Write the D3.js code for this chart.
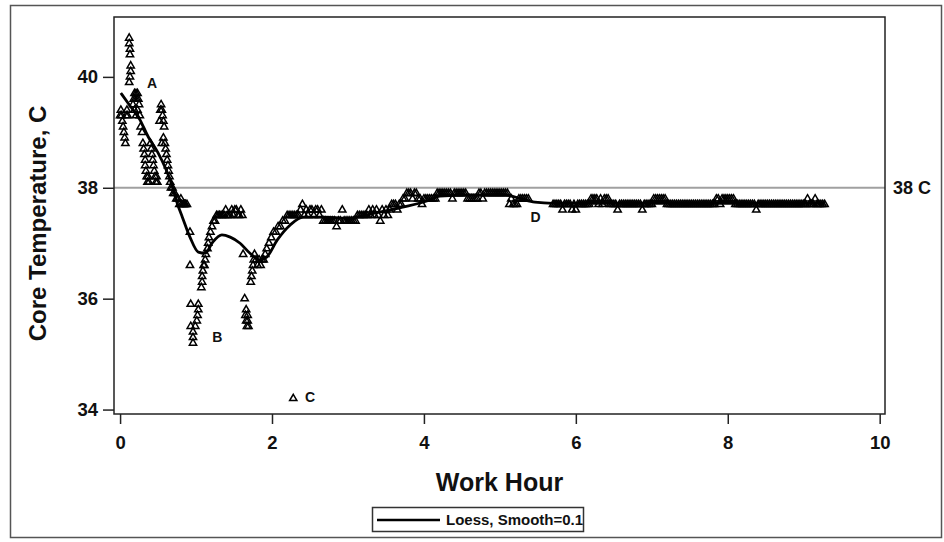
<!DOCTYPE html>
<html><head><meta charset="utf-8">
<script src="https://cdn.jsdelivr.net/npm/d3@7"></script>
<style>
body{margin:0;background:#fff}
svg{display:block}
text{font-family:"Liberation Sans",Arial,Helvetica,sans-serif;font-weight:bold;fill:#111}
</style>
</head><body>
<svg id="chart" width="944" height="542"></svg>
<script>
// ---------- data ----------
const xTicks = [0, 2, 4, 6, 8, 10];
const yTicks = [34, 36, 38, 40];
const xTitle = "Work Hour";
const yTitle = "Core Temperature, C";
const legendLabel = "Loess, Smooth=0.1";
const refTemp = 38;
const refLabel = "38 C";

// early readings [hour, temperature]
const earlyPoints = [
  [0.00,39.3],[0.01,39.4],[0.02,39.3],[0.03,39.2],[0.04,39.1],[0.05,39.0],[0.06,38.9],[0.07,38.8],[0.08,39.3],[0.09,39.4],[0.10,39.3],
  [0.12,39.9],[0.13,40.0],[0.14,40.1],[0.14,40.2],[0.13,40.4],[0.13,40.5],[0.12,40.6],[0.12,40.7],
  [0.17,39.5],[0.18,39.6],[0.19,39.7],[0.20,39.6],[0.21,39.7],[0.22,39.6],[0.23,39.7],[0.24,39.6],
  [0.19,39.4],[0.21,39.3],[0.23,39.4],[0.25,39.5],[0.26,39.3],[0.27,39.1],[0.29,39.0],
  [0.30,38.8],[0.31,38.7],[0.32,38.6],[0.33,38.5],[0.33,38.4],[0.34,38.3],[0.35,38.2],[0.36,38.1],[0.37,38.2],[0.38,38.1],
  [0.40,38.8],[0.41,38.7],[0.42,38.6],[0.43,38.5],[0.44,38.4],[0.45,38.3],[0.46,38.2],[0.47,38.1],[0.48,38.2],[0.49,38.1],
  [0.52,39.2],[0.53,39.4],[0.54,39.5],[0.55,39.4],[0.56,39.3],[0.57,39.2],[0.58,39.1],[0.55,38.8],[0.57,38.9],[0.59,38.8],
  [0.60,38.7],[0.61,38.6],[0.62,38.5],[0.63,38.4],[0.64,38.3],[0.65,38.2],[0.66,38.1],[0.67,38.0],
  [0.69,38.0],[0.70,37.9],[0.72,37.9],[0.74,37.8],[0.76,37.8],[0.78,37.7],[0.80,37.8],[0.81,37.7],[0.83,37.7],[0.84,37.7],[0.85,37.7],[0.86,37.7],[0.88,37.7],
  [0.92,37.2],[0.92,36.6],
  [0.93,35.9],[0.93,35.5],[0.96,35.3],[0.96,35.2],[0.96,35.4],[0.99,35.5],[1.01,35.6],[1.02,35.7],[1.03,35.8],[1.03,35.9],
  [1.07,36.2],[1.08,36.3],[1.08,36.4],[1.09,36.5],[1.10,36.6],[1.11,36.6],[1.12,36.7],[1.13,36.8],
  [1.15,36.9],[1.16,37.0],[1.17,37.1],[1.19,37.2],[1.21,37.3],[1.23,37.4],[1.25,37.4],[1.27,37.5],
  [1.29,37.5],[1.31,37.5],[1.33,37.5],[1.35,37.5],[1.37,37.5],[1.39,37.6],[1.41,37.5],[1.43,37.5],[1.45,37.5],
  [1.47,37.6],[1.49,37.5],[1.51,37.6],[1.53,37.6],[1.55,37.5],[1.57,37.5],[1.59,37.6],[1.61,37.5],
  [1.62,36.8],[1.64,36.0],[1.65,35.7],[1.66,35.8],[1.66,35.6],[1.67,35.5],[1.68,35.6],[1.68,35.7],[1.69,35.5],
  [1.72,36.3],[1.73,36.4],[1.74,36.5],[1.75,36.6],[1.76,36.7],[1.77,36.8],
  [1.79,36.7],[1.81,36.6],[1.83,36.7],[1.85,36.6],[1.87,36.7],[1.89,36.7],[1.91,36.8],
  [1.93,36.9],[1.96,37.0],[1.99,37.1],[2.02,37.2],[2.05,37.2],[2.08,37.3],[2.11,37.3],[2.14,37.4],[2.17,37.4],[2.20,37.5],
  [2.28,34.2]
];

// later readings, one every plateauStep hours from plateauStart (null = no reading)
const plateauStart = 2.225;
const plateauStep = 0.025;
const plateauTemps = [
  37.5,37.5,37.5,37.5,37.5,37.5,37.6,37.7,37.5,37.6,
  37.5,37.6,37.6,37.5,37.6,37.6,37.5,37.6,37.4,37.4,
  37.4,37.4,37.4,37.4,37.4,37.3,37.4,37.4,37.6,37.4,
  37.4,37.4,37.4,37.4,37.4,37.4,37.5,37.5,37.5,37.5,
  37.5,37.5,37.6,37.5,37.6,37.5,37.6,37.5,37.4,37.6,
  37.5,37.6,37.5,37.6,37.7,37.7,37.7,37.6,37.7,37.7,
  37.8,37.8,37.9,37.9,37.9,37.8,37.9,37.9,37.8,37.8,
  37.7,37.8,37.8,37.8,37.8,37.8,37.8,37.8,37.9,37.9,
  37.9,37.9,37.9,37.9,37.9,37.9,37.8,37.9,37.9,37.9,
  37.9,37.9,37.9,37.9,37.8,37.8,37.8,37.8,37.8,37.8,
  37.9,37.9,37.8,37.9,37.9,37.9,37.9,37.9,37.9,37.9,
  37.9,37.9,37.9,37.9,37.9,37.9,37.7,37.8,37.7,37.7,
  37.7,37.8,37.8,37.8,37.8,37.8,37.8,null,null,null,
  null,null,null,null,null,null,null,null,null,37.7,
  37.7,37.7,37.7,37.7,37.6,37.7,37.7,37.7,37.7,37.6,
  37.7,37.6,37.7,37.7,37.7,37.7,37.7,37.7,37.7,37.8,
  37.8,37.8,37.8,37.7,37.8,37.7,37.8,37.8,37.8,37.7,
  37.7,37.7,37.7,37.6,37.7,37.7,37.7,37.7,37.7,37.7,
  37.7,37.7,37.7,37.7,37.7,37.7,37.6,37.7,37.7,37.7,
  37.7,37.7,37.8,37.8,37.8,37.8,37.8,37.8,37.8,37.7,
  37.7,37.7,37.7,37.7,37.7,37.7,37.7,37.7,37.7,37.7,
  37.7,37.7,37.7,37.7,37.7,37.7,37.7,37.7,37.7,37.7,
  37.7,37.7,37.7,37.7,37.7,37.8,37.8,37.7,37.8,37.8,
  37.8,37.8,37.8,37.8,37.8,37.7,37.7,37.7,37.7,37.7,
  37.7,37.7,37.7,37.7,37.7,37.7,37.6,37.7,37.7,37.7,
  37.7,37.7,37.7,37.7,37.7,37.7,37.7,37.7,37.7,37.7,
  37.7,37.7,37.7,37.7,37.7,37.7,37.7,37.7,37.7,37.7,
  37.7,37.7,37.7,37.8,37.7,37.7,37.7,37.8,37.7,37.7,
  37.7,37.7,37.7
];

// loess curve
const loessHours = [0.01,0.13,0.26,0.37,0.50,0.66,0.76,0.82,0.92,1.03,1.12,1.22,1.34,1.45,1.58,1.71,1.84,1.93,2.07,2.24,2.41,2.67,2.99,3.38,3.72,4.08,4.21,4.60,5.07,5.26,5.46,5.70,6.32,7.50,8.50,9.28];
const loessTemps = [39.71,39.48,39.23,38.92,38.63,38.14,37.69,37.47,37.11,36.84,36.82,37.02,37.15,37.11,37.00,36.82,36.70,36.75,37.06,37.33,37.47,37.47,37.45,37.55,37.65,37.78,37.85,37.87,37.87,37.81,37.74,37.72,37.72,37.72,37.72,37.72];

// annotation letters
const noteLabels = ["A", "B", "C", "D"];
const noteHours  = [0.42, 1.28, 2.50, 5.47];
const noteTemps  = [39.88, 35.31, 34.23, 37.47];

// ---------- drawing ----------
const svg = d3.select("#chart");
const W = 944, H = 542;
const plot = {left: 114, right: 885, top: 17, bottom: 414};

const x = d3.scaleLinear().domain([-0.08, 10.07]).range([plot.left, plot.right]);
const y = d3.scaleLinear().domain([33.92, 41.08]).range([plot.bottom, plot.top]);

// outer border
svg.append("rect").attr("x", 10.5).attr("y", 5.5).attr("width", W - 13).attr("height", H - 10)
  .attr("fill", "none").attr("stroke", "#555").attr("stroke-width", 1.5);

// reference line
svg.append("line").attr("x1", plot.left).attr("x2", plot.right)
  .attr("y1", y(refTemp)).attr("y2", y(refTemp))
  .attr("stroke", "#a0a0a0").attr("stroke-width", 2);
svg.append("text").attr("x", plot.right + 8).attr("y", y(refTemp)).attr("dy", "0.35em")
  .style("font-size", "18px").text(refLabel);

// axes
const xAxis = svg.append("g").attr("transform", `translate(0,${plot.bottom})`)
  .call(d3.axisBottom(x).tickValues(xTicks).tickSize(10).tickPadding(12).tickFormat(d3.format("d")));
const yAxis = svg.append("g").attr("transform", `translate(${plot.left},0)`)
  .call(d3.axisLeft(y).tickValues(yTicks).tickSize(11).tickPadding(5).tickFormat(d3.format("d")));
[xAxis, yAxis].forEach(g => {
  g.select(".domain").remove();
  g.selectAll("line").attr("stroke", "#222").attr("stroke-width", 1.5);
  g.selectAll("text").style("font-size", "18.5px").style("font-family", "'Liberation Sans',Arial,sans-serif").style("font-weight", "bold").attr("fill", "#111");
});

// frame
svg.append("rect").attr("x", plot.left).attr("y", plot.top)
  .attr("width", plot.right - plot.left).attr("height", plot.bottom - plot.top)
  .attr("fill", "none").attr("stroke", "#222").attr("stroke-width", 1.5);

// points
const pts = earlyPoints.map(d => ({h: d[0], t: d[1]}))
  .concat(plateauTemps.map((t, i) => ({h: plateauStart + i * plateauStep, t}))
  .filter(d => d.t !== null));
const tri = d3.symbol().type(d3.symbolTriangle).size(23);
svg.append("g").selectAll("path").data(pts).join("path")
  .attr("transform", d => `translate(${x(d.h)},${y(d.t)})`)
  .attr("d", tri).attr("fill", "none").attr("stroke", "#000").attr("stroke-width", 1.5);

// loess curve
const loess = loessHours.map((h, i) => [h, loessTemps[i]]);
svg.append("path").datum(loess)
  .attr("d", d3.line().x(d => x(d[0])).y(d => y(d[1])).curve(d3.curveMonotoneX))
  .attr("fill", "none").attr("stroke", "#000").attr("stroke-width", 2.8);

// annotations
svg.append("g").selectAll("text").data(noteLabels).join("text")
  .attr("x", (d, i) => x(noteHours[i])).attr("y", (d, i) => y(noteTemps[i]))
  .attr("dy", "0.35em").attr("text-anchor", "middle")
  .style("font-size", "14px").text(d => d);

// axis titles
svg.append("text").attr("x", (plot.left + plot.right) / 2).attr("y", 491)
  .attr("text-anchor", "middle").style("font-size", "25px").text(xTitle);
svg.append("text").attr("transform", `translate(46,${(plot.top + plot.bottom) / 2 + 8}) rotate(-90)`)
  .attr("text-anchor", "middle").style("font-size", "24px").text(yTitle);

// legend
const lg = svg.append("g");
lg.append("rect").attr("x", 372.5).attr("y", 507.5).attr("width", 211).attr("height", 24)
  .attr("fill", "#fff").attr("stroke", "#333").attr("stroke-width", 1.5);
lg.append("line").attr("x1", 377).attr("x2", 440).attr("y1", 520).attr("y2", 520)
  .attr("stroke", "#000").attr("stroke-width", 2.6);
lg.append("text").attr("x", 446).attr("y", 520).attr("dy", "0.36em")
  .style("font-size", "15px").text(legendLabel);
</script>
</body></html>
